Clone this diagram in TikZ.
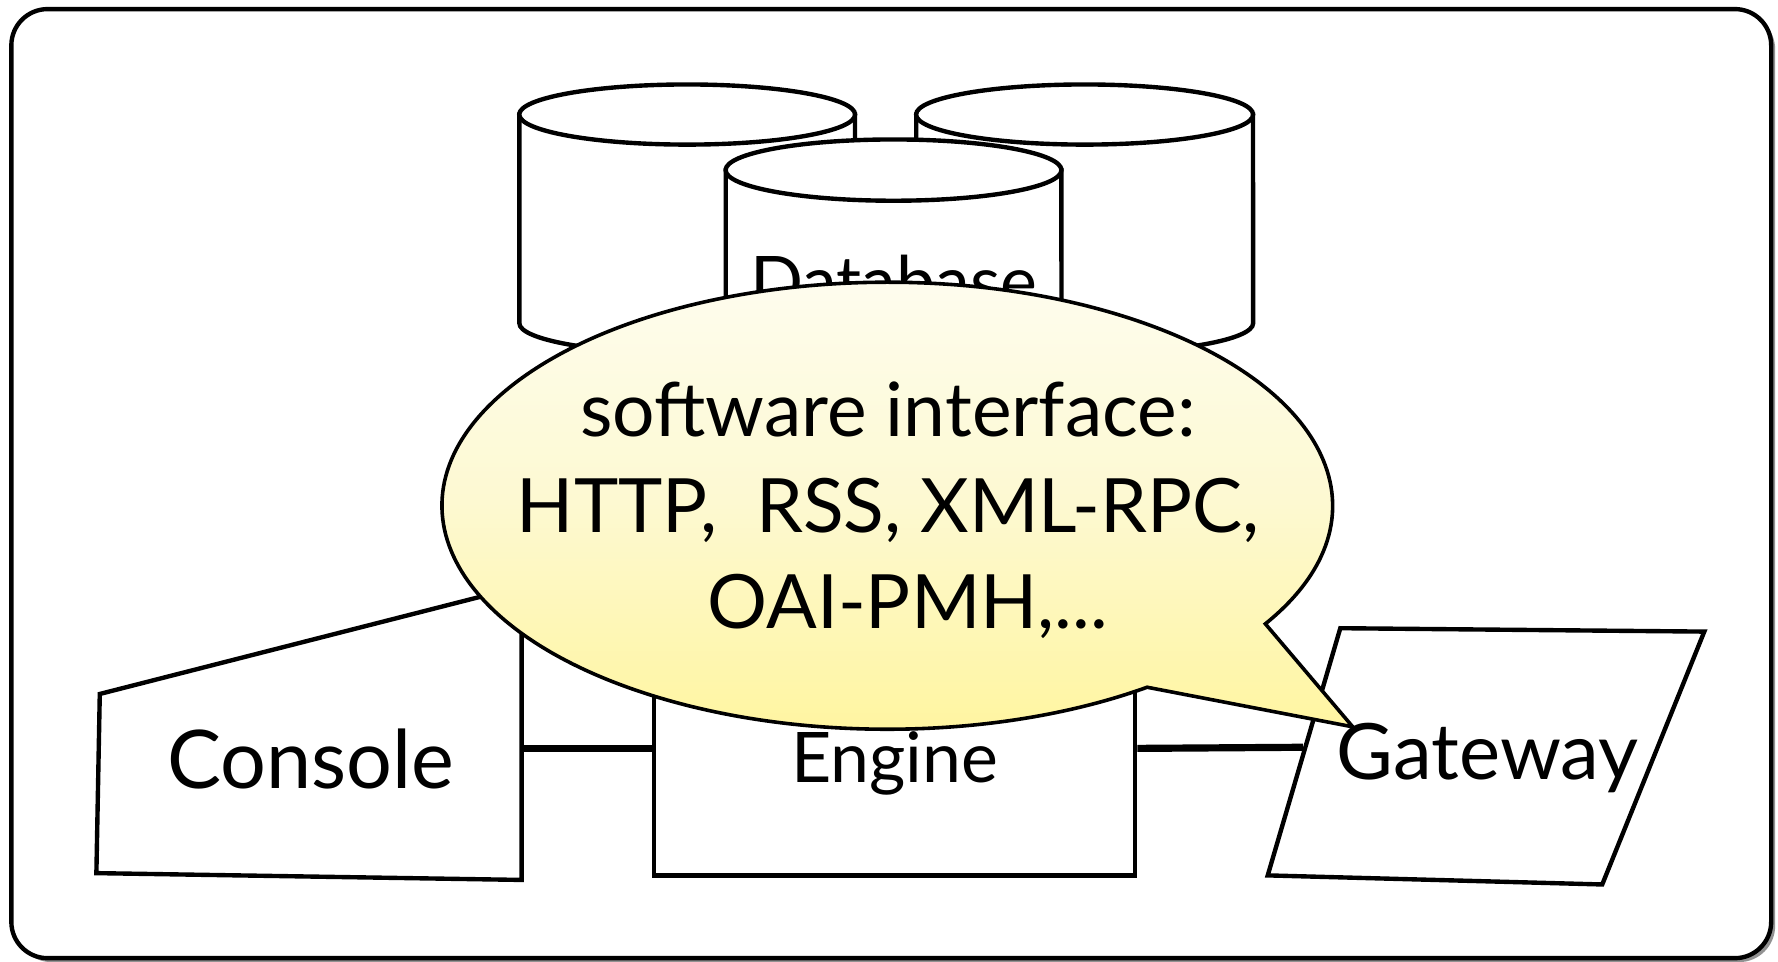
\documentclass[tikz,border=0pt]{standalone}
\usepackage{fontspec}
\setmainfont{Lato}
\usetikzlibrary{calc,shadows}
\definecolor{BubbleTop}{HTML}{FEFDF2}
\definecolor{BubbleMid}{HTML}{FDF9D2}
\definecolor{BubbleBottom}{HTML}{FFF59E}
\definecolor{FrameShadow}{HTML}{777777}

\begin{document}
\begin{tikzpicture}[
    x=0.01cm, y=-0.01cm,
    frame/.style={draw, line width=1.1pt, rounded corners=0.32cm, fill=white, drop shadow={shadow xshift=0.035cm, shadow yshift=-0.035cm, fill=FrameShadow, opacity=0.8}},
    part/.style={draw, line width=1.1pt, fill=white},
    link/.style={line width=1.8pt},
    bubble/.style={draw, line width=0.9pt, top color=BubbleTop, bottom color=BubbleBottom, middle color=BubbleMid},
    boxtext/.style={anchor=base, inner sep=0pt, font=\fontsize{19.5}{23}\selectfont},
    dbtext/.style={anchor=base, inner sep=0pt, font=\fontsize{17.5}{21}\selectfont},
    talk/.style={align=center, inner sep=0pt, font=\fontsize{18.8}{24}\selectfont}
  ]
  \useasboundingbox (0,0) rectangle (1568,848);

  % Frame
  \path[frame] (10,8) rectangle (1562,845);

  % Databases: back row
  \path[part] (458,101) -- (458,285) arc[start angle=180, end angle=360, x radius=1.48cm, y radius=0.265cm] -- (754,101) -- cycle;
  \draw[part] (606,101) ellipse [x radius=1.48cm, y radius=0.265cm];
  \path[part] (808,101) -- (808,285) arc[start angle=180, end angle=360, x radius=1.485cm, y radius=0.265cm] -- (1105,101) -- cycle;
  \draw[part] (956.5,101) ellipse [x radius=1.485cm, y radius=0.265cm];

  % Databases: front
  \path[part] (640,150) -- (640,335) arc[start angle=180, end angle=360, x radius=1.48cm, y radius=0.27cm] -- (936,150) -- cycle;
  \draw[part] (788,150) ellipse [x radius=1.48cm, y radius=0.27cm];
  \node[dbtext] (db) at (788,270) {Database};

  % Console
  \path[part] (88,612) -- (460,517) -- (460,776) -- (85,770) -- cycle;
  \coordinate (console-r) at (460,660);
  \node[boxtext, font=\fontsize{20.3}{24}\selectfont] (console) at (274,695) {Console};

  % Engine
  \node[part, minimum width=4.24cm, minimum height=2.24cm, inner sep=0pt] (engine) at (789,660) {};
  \node[dbtext] (engine-txt) at (789,690) {Engine};

  % Gateway
  \path[part] (1182,554) -- (1503,557) -- (1413,780) -- (1118,772) -- cycle;
  \coordinate (gateway-l) at (1149,659);
  \node[boxtext] (gateway) at (1312,687) {Gateway};

  % Links
  \draw[link] (console-r) -- (engine.west);
  \draw[link] (engine.east) -- (gateway-l);

  % Speech bubble
  \coordinate (talk-c) at (782.5,446);
  \coordinate (tip) at (1193,641);
  \path[bubble] ($(talk-c)+(-31.9:3.925cm and 1.97cm)$) arc[start angle=-31.9, end angle=305.7, x radius=3.925cm, y radius=1.97cm] -- (tip) -- cycle;
  \node[talk] (iface) at (783,450) {software interface:\\HTTP,\ \ RSS, XML-RPC,\\\hspace*{0.35cm}OAI-PMH,...};

\end{tikzpicture}
\end{document}
